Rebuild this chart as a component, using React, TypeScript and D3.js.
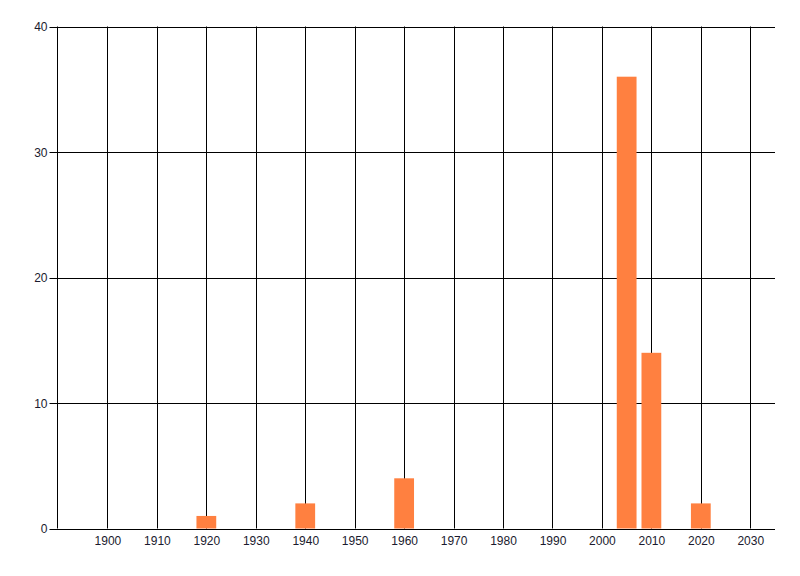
import { useEffect, useRef } from "react";
import * as d3 from "d3";

const years = [1920, 1940, 1960, 2005, 2010, 2020];
const counts = [1, 2, 4, 36, 14, 2];
const xTicks = [1900, 1910, 1920, 1930, 1940, 1950, 1960, 1970, 1980, 1990, 2000, 2010, 2020, 2030];
const yTicks = [0, 10, 20, 30, 40];

const width = 800;
const height = 576;

export default function App() {
  const svgRef = useRef<SVGSVGElement>(null);

  useEffect(() => {
    if (!svgRef.current) return;
    const svg = d3.select(svgRef.current);
    svg.selectAll("*").remove();

    const left = 57.5;
    const right = 775;
    const top = 26.5;
    const bottom = 528.5;

    const x = d3.scaleLinear().domain([1889.9, 2035]).range([left, right]);
    const y = d3.scaleLinear().domain([0, 40]).range([bottom, top]);
    const font = "'Liberation Sans', Arial, sans-serif";

    // vertical grid
    svg
      .append("g")
      .selectAll("line")
      .data(xTicks)
      .enter()
      .append("line")
      .attr("x1", (d) => Math.round(x(d)) + 0.5)
      .attr("x2", (d) => Math.round(x(d)) + 0.5)
      .attr("y1", top)
      .attr("y2", bottom)
      .attr("stroke", "#000")
      .attr("stroke-width", 1);

    // horizontal grid + y ticks
    svg
      .append("g")
      .selectAll("line")
      .data(yTicks)
      .enter()
      .append("line")
      .attr("x1", left - 8)
      .attr("x2", right)
      .attr("y1", (d) => Math.round(y(d)) + 0.5)
      .attr("y2", (d) => Math.round(y(d)) + 0.5)
      .attr("stroke", "#000")
      .attr("stroke-width", 1);

    // bars
    const barW = 4;
    svg
      .append("g")
      .selectAll("rect")
      .data(years.map((yr, i) => ({ yr, v: counts[i] })))
      .enter()
      .append("rect")
      .attr("x", (d) => x(d.yr - barW / 2))
      .attr("width", (d) => x(d.yr + barW / 2) - x(d.yr - barW / 2))
      .attr("y", (d) => y(d.v))
      .attr("height", (d) => y(0) - y(d.v))
      .attr("fill", "#FF8040");

    // y axis line
    svg
      .append("line")
      .attr("x1", left)
      .attr("x2", left)
      .attr("y1", top)
      .attr("y2", bottom)
      .attr("stroke", "#000");

    // x axis line
    svg
      .append("line")
      .attr("x1", left)
      .attr("x2", right)
      .attr("y1", Math.round(y(0)) + 0.5)
      .attr("y2", Math.round(y(0)) + 0.5)
      .attr("stroke", "#000");

    // y labels
    svg
      .append("g")
      .selectAll("text")
      .data(yTicks)
      .enter()
      .append("text")
      .attr("x", left - 10)
      .attr("y", (d) => y(d) + 4.5)
      .attr("text-anchor", "end")
      .attr("font-family", font)
      .attr("font-size", "12px")
      .attr("fill", "#1a1a2e")
      .text((d) => d);

    // x labels
    svg
      .append("g")
      .selectAll("text")
      .data(xTicks)
      .enter()
      .append("text")
      .attr("x", (d) => x(d) + 0.5)
      .attr("y", 545)
      .attr("text-anchor", "middle")
      .attr("font-family", font)
      .attr("font-size", "12px")
      .attr("fill", "#1a1a2e")
      .text((d) => d);
  }, []);

  return (
    <svg
      ref={svgRef}
      width={width}
      height={height}
      style={{ position: "absolute", left: 0, top: 0, background: "#fff" }}
    />
  );
}
